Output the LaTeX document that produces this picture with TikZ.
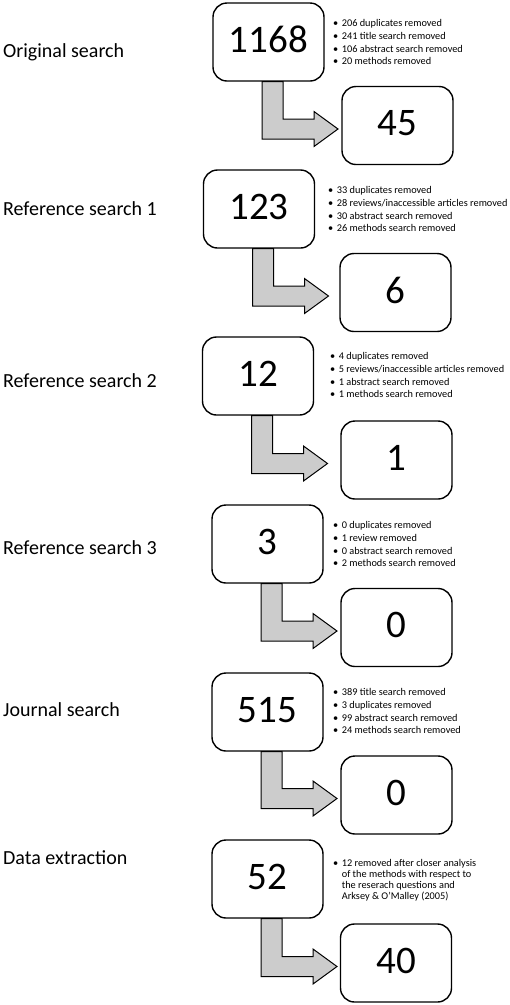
\documentclass[tikz,border=0pt]{standalone}
\usepackage{fontspec}
\setmainfont{Carlito}
\usepackage{tikz}
\usetikzlibrary{positioning,calc}
\definecolor{flowgray}{RGB}{204,204,204}

\newcommand{\bul}{\textbullet\hspace{3.5pt}}
% bent arrow from the big box down and across to the small box
\newcommand{\flowarrow}[2]{%
  \draw[flowarrow] let \p1=(#1.south), \p2=(#2.west) in
    ({\x1-6.5pt},\y1) -- ({\x1+14.5pt},\y1) -- ({\x1+14.5pt},{\y2+6.5pt})
    -- ({\x1+45.5pt},{\y2+6.5pt}) -- ({\x1+45.5pt},{\y2+14pt})
    -- ({\x1+69.5pt},{\y2-3.5pt}) -- ({\x1+45.5pt},{\y2-21pt})
    -- ({\x1+45.5pt},{\y2-13.5pt}) -- ({\x1-6.5pt},{\y2-13.5pt}) -- cycle;}

\begin{document}
\begin{tikzpicture}[x=1pt,y=-1pt,
  countbox/.style={draw,line width=1.4pt,rounded corners=14pt,fill=white,
    minimum width=111pt,minimum height=78pt,inner sep=0pt,text depth=5pt,
    font=\fontsize{39}{39}\selectfont},
  stagelabel/.style={anchor=west,inner sep=0pt,font=\fontsize{20}{22}\selectfont},
  notes/.style={anchor=north west,inner sep=0pt,align=left,
    font=\fontsize{10.3}{12.7}\selectfont},
  flowarrow/.style={draw=black,line width=1pt,fill=flowgray,line join=miter}]
  \useasboundingbox (0,0) rectangle (510,1005);

  % ── Original search ──
  \node[stagelabel] (l1) at (3,52) {Original search};
  \node[countbox] (a1) at (268.5,42) {1168};
  \node[countbox] (b1) at (397.5,125.5) {45};
  \node[notes] (n1) at (333,19.5) {\bul 206 duplicates removed\\ \bul 241 title search removed\\
    \bul 106 abstract search removed\\ \bul 20 methods removed};
  \flowarrow{a1}{b1}

  % ── Reference search 1 ──
  \node[stagelabel] (l2) at (3,209) {Reference search 1};
  \node[countbox] (a2) at (259,209) {123};
  \node[countbox] (b2) at (395.5,292.5) {6};
  \node[notes] (n2) at (328,186.5) {\bul 33 duplicates removed\\ \bul 28 reviews/inaccessible articles removed\\
    \bul 30 abstract search removed\\ \bul 26 methods search removed};
  \flowarrow{a2}{b2}

  % ── Reference search 2 ──
  \node[stagelabel] (l3) at (3,381) {Reference search 2};
  \node[countbox] (a3) at (258,376) {12};
  \node[countbox] (b3) at (396.5,460) {1};
  \node[notes] (n3) at (330,352.5) {\bul 4 duplicates removed\\ \bul 5 reviews/inaccessible articles removed\\
    \bul 1 abstract search removed\\ \bul 1 methods search removed};
  \flowarrow{a3}{b3}

  % ── Reference search 3 ──
  \node[stagelabel] (l4) at (3,548) {Reference search 3};
  \node[countbox] (a4) at (267.5,544) {3};
  \node[countbox] (b4) at (396.5,627.5) {0};
  \node[notes] (n4) at (333,521.5) {\bul 0 duplicates removed\\ \bul 1 review removed\\
    \bul 0 abstract search removed\\ \bul 2 methods search removed};
  \flowarrow{a4}{b4}

  % ── Journal search ──
  \node[stagelabel] (l5) at (3,710) {Journal search};
  \node[countbox] (a5) at (267.5,712) {515};
  \node[countbox] (b5) at (396.5,795) {0};
  \node[notes] (n5) at (333,688.5) {\bul 389 title search removed\\ \bul 3 duplicates removed\\
    \bul 99 abstract search removed\\ \bul 24 methods search removed};
  \flowarrow{a5}{b5}

  % ── Data extraction ──
  \node[stagelabel] (l6) at (3,858) {Data extraction};
  \node[countbox] (a6) at (267.5,879) {52};
  \node[countbox] (b6) at (396,963) {40};
  \node[notes,font=\fontsize{10.3}{10.8}\selectfont] (n6) at (333,859.5)
    {\bul 12 removed after closer analysis\\ \hphantom{\bul}of the methods with respect to\\
    \hphantom{\bul}the reserach questions and\\ \hphantom{\bul}Arksey \& O'Malley (2005)};
  \flowarrow{a6}{b6}
\end{tikzpicture}
\end{document}
